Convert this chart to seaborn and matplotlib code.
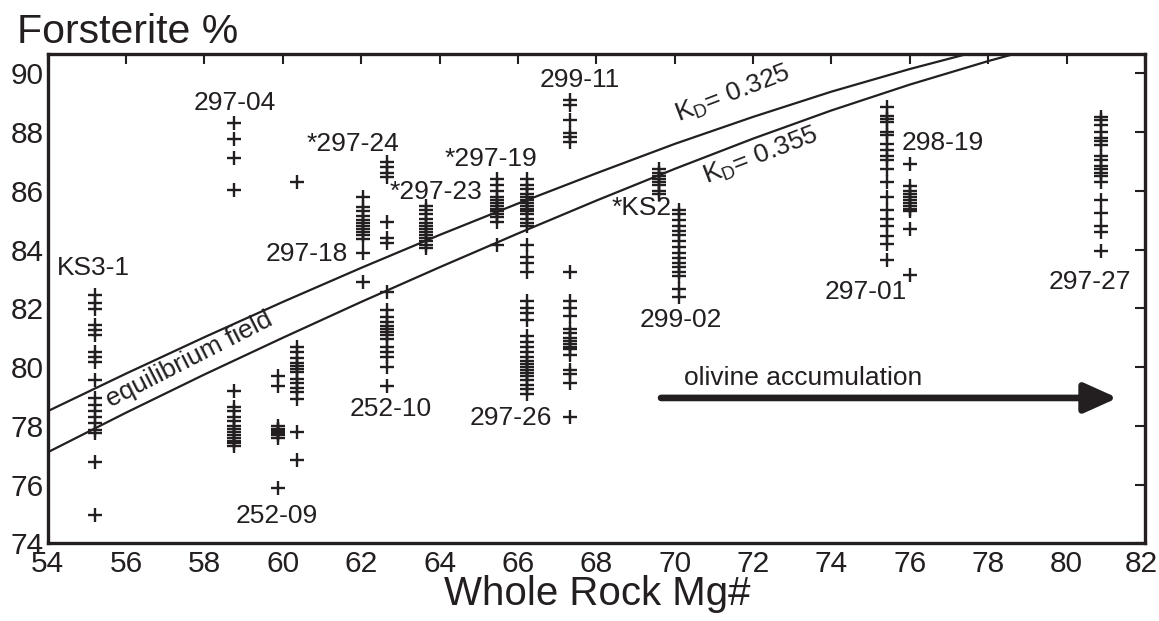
import numpy as np
import pandas as pd
import matplotlib
matplotlib.use("Agg")
import matplotlib.pyplot as plt
import matplotlib.transforms as mtransforms
import seaborn as sns

# ---- data: whole-rock Mg# of each sample column and olivine Fo values ----
mg_ks3_1 = 55.21
fo_ks3_1 = [82.45, 82.17, 81.97, 81.43, 81.26, 81.09, 80.52, 80.35, 80.18, 79.56,
            78.94, 78.71, 78.52, 78.31, 78.09, 77.86, 77.75, 76.78, 74.97]
mg_297_04 = 58.76
fo_297_04 = [88.30, 87.75, 87.11, 86.03,
             79.2, 78.65, 78.5, 78.3, 78.15, 78.0, 77.9, 77.8, 77.7, 77.6, 77.5, 77.4, 77.3]
mg_252_09a = 59.87
fo_252_09a = [79.7, 79.35, 78.0, 77.9, 77.85, 77.8, 77.75, 77.7, 77.6, 75.87]
mg_252_09b = 60.35
fo_252_09b = [86.31, 80.7, 80.5, 80.3, 80.15, 80.05, 79.95, 79.85, 79.6, 79.45, 79.3,
              79.15, 78.9, 77.8, 76.85]
mg_297_18 = 62.04
fo_297_18 = [85.8, 85.45, 85.3, 85.15, 85.0, 84.9, 84.8, 84.7, 84.6, 84.5, 84.35, 83.9, 82.9]
mg_297_24 = 62.65
fo_297_24 = [86.99, 86.82, 86.6, 86.48, 84.95, 84.38, 84.21,
             82.55, 81.95, 81.7, 81.55, 81.4, 81.3, 81.2, 81.1, 80.95, 80.7, 80.5,
             80.35, 80.0, 79.35]
mg_297_23 = 63.65
fo_297_23 = [85.5, 85.35, 85.2, 85.05, 84.9, 84.8, 84.7, 84.6, 84.5, 84.4, 84.3, 84.15, 84.05]
mg_297_19 = 65.46
fo_297_19 = [86.4, 86.2, 86.0, 85.8, 85.7, 85.6, 85.5, 85.4, 85.3, 85.2, 85.1, 84.95, 84.15]
mg_297_26 = 66.24
fo_297_26 = [86.4, 86.2, 86.05, 85.9, 85.8, 85.7, 85.6, 85.5, 85.4, 85.3, 85.2, 85.05,
             84.9, 84.8, 84.15, 83.75, 83.55, 83.25, 82.25, 82.0, 81.85, 81.6, 81.05,
             80.85, 80.7, 80.5, 80.35, 80.2, 80.1, 80.0, 79.9, 79.8, 79.7, 79.55, 79.4,
             79.25, 79.1]
mg_299_11 = 67.33
fo_299_11 = [89.09, 88.92, 88.41, 87.96, 87.82, 87.67,
             83.25, 82.25, 82.0, 81.75, 81.3, 81.15, 81.0, 80.9, 80.8, 80.7, 80.6,
             80.4, 79.9, 79.75, 79.45, 78.3]
mg_ks2 = 69.61
fo_ks2 = [86.75, 86.6, 86.5, 86.4, 86.3, 86.2, 86.0, 85.9]
mg_299_02 = 70.12
fo_299_02 = [85.35, 85.2, 85.0, 84.8, 84.65, 84.5, 84.3, 84.1, 83.9, 83.7, 83.55, 83.4,
             83.25, 83.1, 82.65, 82.4]
mg_297_01 = 75.41
fo_297_01 = [88.85, 88.55, 88.45, 88.35, 88.0, 87.9, 87.6, 87.4, 87.2, 87.05, 86.75,
             86.3, 85.8, 85.35, 85.05, 84.8, 84.45, 84.2, 83.65]
mg_298_19 = 76.01
fo_298_19 = [86.9, 86.15, 86.0, 85.9, 85.8, 85.7, 85.6, 85.5, 85.4, 85.3, 84.7, 83.15]
mg_297_27 = 80.88
fo_297_27 = [88.5, 88.4, 88.25, 88.0, 87.8, 87.7, 87.55, 87.2, 87.05, 86.85, 86.75,
             86.6, 86.5, 86.3, 85.7, 85.25, 84.8, 84.6, 83.95]

# equilibrium-field boundaries
kd_mg = [54, 56, 58, 60, 62, 64, 66, 68, 70, 72, 74, 76, 78, 80]
kd_0325_fo = [78.5, 79.78, 81.02, 82.22, 83.38, 84.5, 85.57, 86.6, 87.6, 88.52,
              89.38, 90.15, 90.85, 91.5]
kd_0355_fo = [77.1, 78.45, 79.75, 81.0, 82.22, 83.4, 84.55, 85.67, 86.75, 87.78,
              88.74, 89.62, 90.42, 91.15]
kd_labels = ["K$_D$= 0.325", "K$_D$= 0.355"]

sample_labels = ["KS3-1", "297-04", "*297-24", "*297-23", "*297-19", "299-11",
                 "297-18", "252-09", "252-10", "297-26", "*KS2", "299-02",
                 "297-01", "298-19", "297-27"]

x_ticks = list(range(54, 83, 2))
y_ticks = list(range(74, 91, 2))

# ---- build tables ----
cols = [(mg_ks3_1, fo_ks3_1), (mg_297_04, fo_297_04), (mg_252_09a, fo_252_09a),
        (mg_252_09b, fo_252_09b), (mg_297_18, fo_297_18), (mg_297_24, fo_297_24),
        (mg_297_23, fo_297_23), (mg_297_19, fo_297_19), (mg_297_26, fo_297_26),
        (mg_299_11, fo_299_11), (mg_ks2, fo_ks2), (mg_299_02, fo_299_02),
        (mg_297_01, fo_297_01), (mg_298_19, fo_298_19), (mg_297_27, fo_297_27)]
rows = []
for mg, fos in cols:
    for f in fos:
        rows.append({"mg": mg, "fo": f})
df = pd.DataFrame(rows)

lines_df = pd.DataFrame({
    "mg": kd_mg + kd_mg,
    "fo": kd_0325_fo + kd_0355_fo,
    "kd": ["0.325"] * len(kd_mg) + ["0.355"] * len(kd_mg),
})

# ---- style ----
sns.set_style("white")
plt.rcParams["font.family"] = ["Liberation Sans", "DejaVu Sans"]
plt.rcParams["mathtext.default"] = "regular"
INK = "#231f20"

fig = plt.figure(figsize=(11.59, 6.21), dpi=100)
ax = fig.add_axes([0.0412, 0.1251, 0.9467, 0.7879])

sns.lineplot(data=lines_df, x="mg", y="fo", units="kd", estimator=None,
             color=INK, lw=1.6, ax=ax, legend=False, zorder=1)
sns.scatterplot(data=df, x="mg", y="fo", marker="+", color=INK, s=95,
                linewidth=1.7, ax=ax, legend=False, zorder=2)

ax.set_xlim(54, 82)
ax.set_ylim(74, 90.66)
ax.set_xticks(x_ticks)
ax.set_yticks(y_ticks)
ax.set_xlabel("")
ax.set_ylabel("")
ax.tick_params(direction="in", length=7, width=1.5, top=True, right=True,
               labelsize=21.5, pad=3, colors=INK)
ax.tick_params(axis="x", pad=5)
for sp in ax.spines.values():
    sp.set_linewidth(2.4)
    sp.set_color(INK)

# keep the last x tick label inside the canvas
fig.canvas.draw()
last = ax.get_xticklabels()[-1]
last.set_transform(last.get_transform() +
                   mtransforms.ScaledTranslation(-4 / 100, 0, fig.dpi_scale_trans))

# sample labels
label_pos = [(55.16, 83.37), (58.78, 89.0), (61.80, 87.59), (63.91, 85.95),
             (65.31, 87.08), (67.58, 89.77), (60.60, 83.85), (59.85, 74.93),
             (62.74, 78.57), (65.82, 78.27), (69.15, 85.42), (70.16, 81.6),
             (74.88, 82.56), (76.85, 87.63), (80.6, 82.9)]
for txt, (lx, ly) in zip(sample_labels, label_pos):
    ax.text(lx, ly, txt, fontsize=19, ha="center", va="center", color=INK)

# KD labels
ax.text(71.5, 89.3, kd_labels[0], fontsize=19, rotation=21, ha="center",
        va="center", rotation_mode="anchor", color=INK)
ax.text(72.2, 87.2, kd_labels[1], fontsize=19, rotation=21, ha="center",
        va="center", rotation_mode="anchor", color=INK)
ax.text(57.6, 80.24, "equilibrium field", fontsize=19, rotation=27, ha="center",
        va="center", rotation_mode="anchor", color=INK)

# olivine accumulation arrow
ax.text(73.27, 79.63, "olivine accumulation", fontsize=19, ha="center",
        va="center", color=INK)
ax.annotate("", xy=(81.3, 78.95), xytext=(69.65, 78.95),
            arrowprops=dict(arrowstyle="-|>,head_length=1.0,head_width=0.45",
                            lw=4.8, color=INK, shrinkA=0, shrinkB=0,
                            mutation_scale=20))

fig.text(0.0147, 0.93, "Forsterite %", fontsize=29.5, ha="left", va="baseline",
         color=INK)
fig.text(0.515, 0.025, "Whole Rock Mg#", fontsize=29, ha="center", va="baseline",
         color=INK)

fig.savefig("out.png", dpi=100)
